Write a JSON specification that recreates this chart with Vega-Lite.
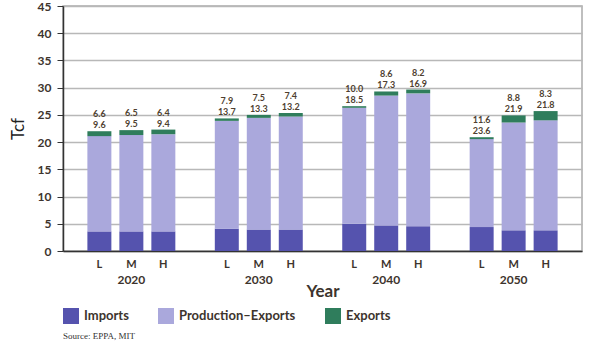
{
  "$schema": "https://vega.github.io/schema/vega-lite/v6.json",
  "autosize": {"type": "none"},
  "width": 519,
  "height": 245,
  "padding": {"left": 63, "top": 6, "right": 8, "bottom": 106},
  "background": "white",
  "config": {
    "font": "Lato",
    "view": {"stroke": "#aaaaaa", "strokeWidth": 1.5},
    "axisY": {
      "labelFont": "Lato", "labelFontSize": 12, "labelFontWeight": "bold", "labelColor": "#3d342d", "labelPadding": 6,
      "tickSize": 6, "tickColor": "#333333", "tickWidth": 1,
      "domainColor": "#333333", "domainWidth": 1.5,
      "gridColor": "#b8b8b8", "gridWidth": 1.5,
      "titleFont": "Lato", "titleFontSize": 17, "titleFontWeight": "normal", "titleColor": "#222222", "titlePadding": 10
    }
  },
  "data": {
    "values": [
      {"year": "2020", "scen": "L", "Imports": 3.6, "Production–Exports": 17.5, "Exports": 0.9, "lab1": "6.6", "lab2": "9.6"},
      {"year": "2020", "scen": "M", "Imports": 3.6, "Production–Exports": 17.7, "Exports": 0.9, "lab1": "6.5", "lab2": "9.5"},
      {"year": "2020", "scen": "H", "Imports": 3.6, "Production–Exports": 17.85, "Exports": 0.85, "lab1": "6.4", "lab2": "9.4"},
      {"year": "2030", "scen": "L", "Imports": 4.1, "Production–Exports": 19.8, "Exports": 0.45, "lab1": "7.9", "lab2": "13.7"},
      {"year": "2030", "scen": "M", "Imports": 3.95, "Production–Exports": 20.5, "Exports": 0.55, "lab1": "7.5", "lab2": "13.3"},
      {"year": "2030", "scen": "H", "Imports": 3.95, "Production–Exports": 20.75, "Exports": 0.65, "lab1": "7.4", "lab2": "13.2"},
      {"year": "2040", "scen": "L", "Imports": 5.0, "Production–Exports": 21.3, "Exports": 0.3, "lab1": "10.0", "lab2": "18.5"},
      {"year": "2040", "scen": "M", "Imports": 4.7, "Production–Exports": 23.85, "Exports": 0.75, "lab1": "8.6", "lab2": "17.3"},
      {"year": "2040", "scen": "H", "Imports": 4.55, "Production–Exports": 24.4, "Exports": 0.7, "lab1": "8.2", "lab2": "16.9"},
      {"year": "2050", "scen": "L", "Imports": 4.4, "Production–Exports": 16.15, "Exports": 0.35, "lab1": "11.6", "lab2": "23.6"},
      {"year": "2050", "scen": "M", "Imports": 3.8, "Production–Exports": 19.8, "Exports": 1.3, "lab1": "8.8", "lab2": "21.9"},
      {"year": "2050", "scen": "H", "Imports": 3.8, "Production–Exports": 20.2, "Exports": 1.7, "lab1": "8.3", "lab2": "21.8"}
    ]
  },
  "encoding": {
    "x": {
      "field": "year", "type": "nominal",
      "scale": {"paddingInner": 0.247, "paddingOuter": 0.16},
      "axis": {
        "title": "Year", "labelAngle": 0, "ticks": false, "labelPadding": 23,
        "labelFont": "Lato", "labelFontSize": 12, "labelFontWeight": "bold", "labelColor": "#3d342d",
        "titleFont": "Lato", "titleFontSize": 17, "titleFontWeight": "bold", "titleColor": "#3d342d", "titlePadding": -2,
        "domainColor": "#333333", "domainWidth": 1.5, "grid": false
      }
    },
    "xOffset": {
      "field": "scen", "type": "nominal", "sort": ["L", "M", "H"],
      "scale": {"paddingInner": 0.25, "paddingOuter": 0.125}
    }
  },
  "layer": [
    {
      "transform": [
        {"fold": ["Imports", "Production–Exports", "Exports"], "as": ["cat", "value"]},
        {"calculate": "indexof(['Imports','Production–Exports','Exports'], datum.cat)", "as": "ord"}
      ],
      "mark": {"type": "bar"},
      "encoding": {
        "y": {
          "field": "value", "type": "quantitative", "stack": "zero",
          "scale": {"domain": [0, 45], "nice": false},
          "axis": {"title": "Tcf", "values": [0, 5, 10, 15, 20, 25, 30, 35, 40, 45]}
        },
        "order": {"field": "ord", "type": "quantitative", "sort": "ascending"},
        "color": {
          "field": "cat", "type": "nominal",
          "sort": ["Imports", "Production–Exports", "Exports"],
          "scale": {"domain": ["Imports", "Production–Exports", "Exports"], "range": ["#5553ae", "#aaa8dc", "#2f7d5c"]},
          "legend": {
            "orient": "none", "legendX": 0, "legendY": 302, "direction": "horizontal",
            "title": "Source: EPPA, MIT", "titleOrient": "bottom", "titleAnchor": "start",
            "titleFont": "Liberation Serif", "titleFontSize": 9, "titleFontWeight": "normal", "titleColor": "#333333", "titlePadding": 8,
            "symbolType": "square", "symbolSize": 256, "symbolStrokeWidth": 0, "symbolOpacity": 1,
            "labelFont": "Lato", "labelFontSize": 13, "labelFontWeight": "bold", "labelColor": "#3d342d",
            "labelOffset": 5, "columnPadding": 29
          }
        }
      }
    },
    {
      "transform": [{"fold": ["Imports", "Production–Exports", "Exports"], "as": ["cat", "value"]}],
      "mark": {"type": "text", "baseline": "middle", "dy": -6, "fontSize": 9, "fontWeight": "bold", "color": "#4f3f30", "font": "Lato"},
      "encoding": {
        "y": {"aggregate": "sum", "field": "value", "type": "quantitative", "axis": {"title": "Tcf", "values": [0, 5, 10, 15, 20, 25, 30, 35, 40, 45]}},
        "text": {"field": "lab2", "type": "nominal"}
      }
    },
    {
      "transform": [{"fold": ["Imports", "Production–Exports", "Exports"], "as": ["cat", "value"]}],
      "mark": {"type": "text", "baseline": "middle", "dy": -17, "fontSize": 9, "fontWeight": "bold", "color": "#4f3f30", "font": "Lato"},
      "encoding": {
        "y": {"aggregate": "sum", "field": "value", "type": "quantitative", "axis": {"title": "Tcf", "values": [0, 5, 10, 15, 20, 25, 30, 35, 40, 45]}},
        "text": {"field": "lab1", "type": "nominal"}
      }
    },
    {
      "mark": {"type": "text", "baseline": "middle", "dy": 14, "fontSize": 11, "fontWeight": "bold", "color": "#3d342d", "font": "Lato"},
      "encoding": {
        "y": {"datum": 0, "type": "quantitative", "axis": {"title": "Tcf", "values": [0, 5, 10, 15, 20, 25, 30, 35, 40, 45]}},
        "text": {"field": "scen", "type": "nominal"}
      }
    }
  ]
}
